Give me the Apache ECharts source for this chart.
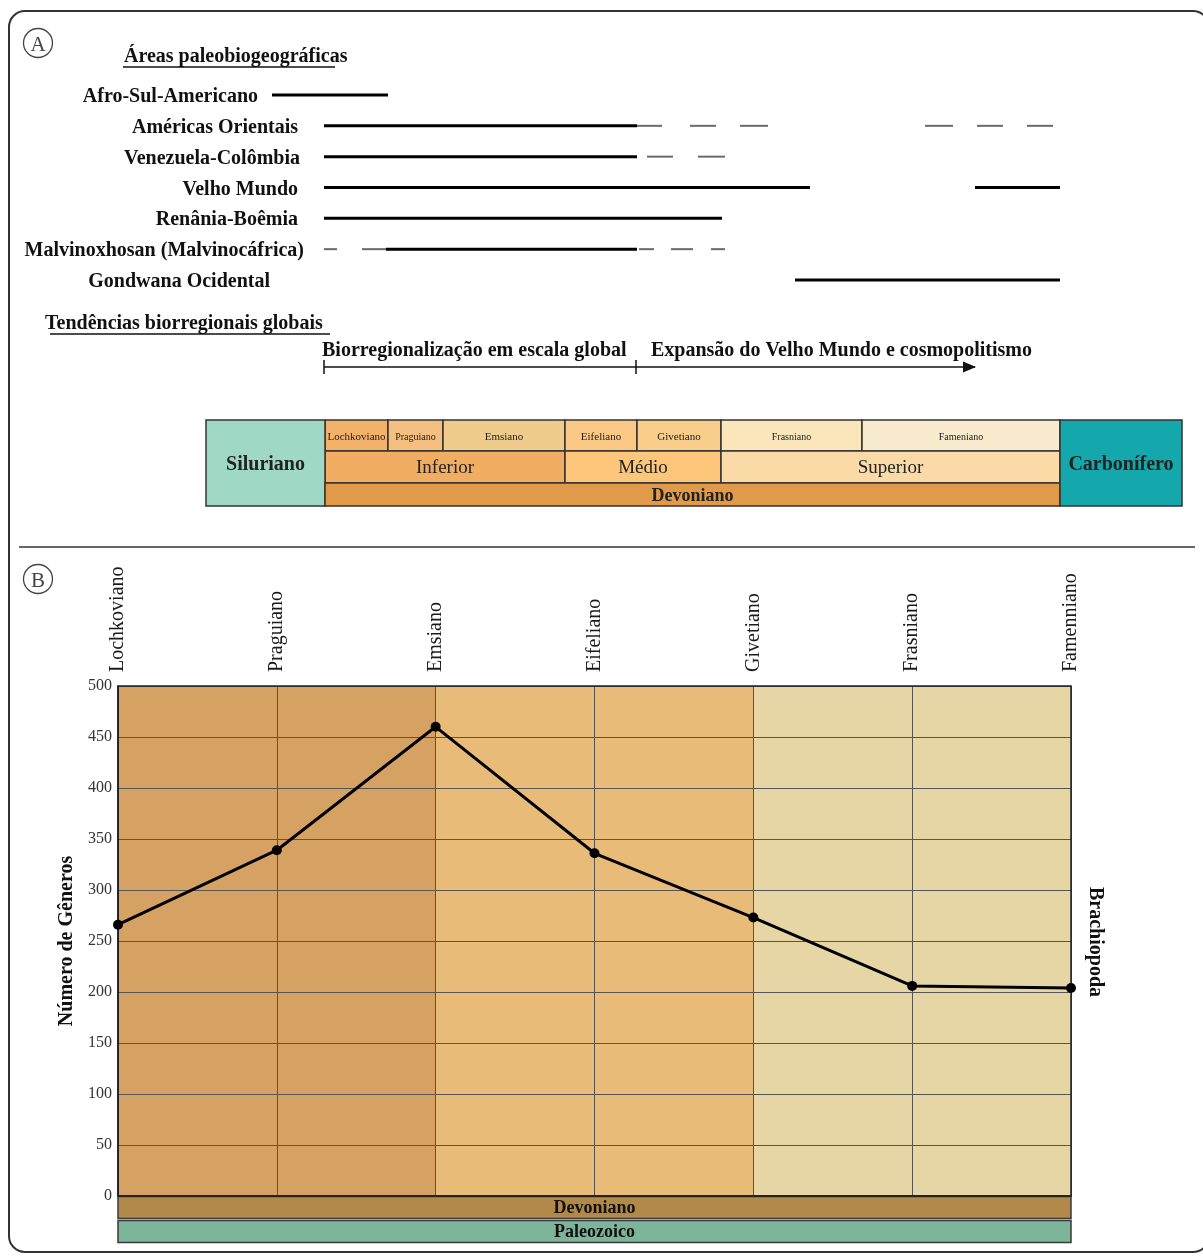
<!DOCTYPE html>
<html><head><meta charset="utf-8">
<script src="https://cdn.jsdelivr.net/npm/echarts@6/dist/echarts.min.js"></script>
<style>html,body{margin:0;padding:0;background:#fff}#c{width:1203px;height:1257px}</style>
</head><body><div id="c"></div>
<script>
const SERIF = '"Liberation Serif", "Times New Roman", serif';

// ---------- Panel A data ----------
const areaNames = ['Afro-Sul-Americano','Américas Orientais','Venezuela-Colômbia','Velho Mundo','Renânia-Boêmia','Malvinoxhosan (Malvinocáfrica)','Gondwana Ocidental'];
// [row, start, end] on the stratigraphic scale (base of Siluriano column = 0)
const solidRanges = [[0,66,182],[1,118,431],[2,118,431],[3,118,604],[3,769,854],[4,118,516],[5,180,431],[6,589,854]];
const dashedRanges = [[1,431,456],[1,484,510],[1,534,562],[1,719,747],[1,771,797],[1,821,847],
                      [2,441,467],[2,492,519],
                      [5,118,131],[5,156,180],[5,433,448],[5,465,487],[5,505,519]];
const trendNames = ['Biorregionalização em escala global','Expansão do Velho Mundo e cosmopolitismo'];
const trendRanges = [[118,430],[430,769]];

const stageNames = ['Lochkoviano','Praguiano','Emsiano','Eifeliano','Givetiano','Frasniano','Fameniano'];
const stageBounds = [119,182,237,359,431,515,656,854];
const epochNames = ['Inferior','Médio','Superior'];
const epochBounds = [119,359,515,854];
const periodNames = ['Siluriano','Devoniano','Carbonífero'];
const periodBounds = [0,119,854,976];

// ---------- Panel B data ----------
const genusStages = ['Lochkoviano','Praguiano','Emsiano','Eifeliano','Givetiano','Frasniano','Famenniano'];
const brachiopodGenera = [266,339,460,336,273,206,204];
const epochSpans = [[0,2],[2,4],[4,6]];
const eraBars = ['Devoniano','Paleozoico'];

// ---------- styles ----------
const stageColors = ['#f2b26a','#f5c07f','#efcb8c','#fbc985','#f9ce8a','#fbe6bb','#f9ebcd'];
const stageFont = [11,10,11,11,11,10,10];
const epochColors = ['#f1ad62','#fdc67a','#fadba7'];
const periodColors = ['#9fd9c6','#e09a49','#14a7ab'];
const bandColors = ['#d6a264','#e8bb78','#e6d5a5'];
const barColors = ['#b3894a','#7db59a'];
const labelRight = [258,298,300,298,298,304,270];
const trendTextOffset = [-2,15];

// build table cells
const cells = [];
stageNames.forEach((n,i)=>cells.push({s:stageBounds[i],e:stageBounds[i+1],row:0,name:n,color:stageColors[i],font:stageFont[i]+'px '+SERIF}));
epochNames.forEach((n,i)=>cells.push({s:epochBounds[i],e:epochBounds[i+1],row:1,name:n,color:epochColors[i],font:'19px '+SERIF}));
periodNames.forEach((n,i)=>cells.push({s:periodBounds[i],e:periodBounds[i+1],row:(i===1?2:3),name:n,color:periodColors[i],font:'bold '+(i===1?18:20)+'px '+SERIF}));
const rowFr = [[0,0.36],[0.36,0.733],[0.733,1],[0,1]];

const segData = solidRanges.map(r=>[r[0],r[1],r[2],0]).concat(dashedRanges.map(r=>[r[0],r[1],r[2],1]));

const chart = echarts.init(document.getElementById('c'), null, {renderer:'canvas'});

const rowTop = 79.58, rowH = 215.83;
const graphics = [
  {type:'rect', shape:{x:9,y:11,width:1200,height:1241,r:16}, style:{fill:'none',stroke:'#333',lineWidth:2}, silent:true},
  {type:'line', shape:{x1:19,y1:547,x2:1195,y2:547}, style:{stroke:'#666',lineWidth:2}},
  {type:'circle', shape:{cx:38,cy:43,r:14.5}, style:{fill:'none',stroke:'#444',lineWidth:1.3}},
  {type:'text', style:{text:'A',x:38,y:45,font:'21px '+SERIF,fill:'#444',textAlign:'center',textVerticalAlign:'middle'}},
  {type:'circle', shape:{cx:38,cy:579,r:14.5}, style:{fill:'none',stroke:'#444',lineWidth:1.3}},
  {type:'text', style:{text:'B',x:38,y:581,font:'21px '+SERIF,fill:'#444',textAlign:'center',textVerticalAlign:'middle'}},
  {type:'text', style:{text:'Áreas paleobiogeográficas',x:124,y:57,font:'bold 20px '+SERIF,fill:'#111',textVerticalAlign:'middle'}},
  {type:'line', shape:{x1:123,y1:67,x2:335,y2:67}, style:{stroke:'#111',lineWidth:1.5}},
  {type:'text', style:{text:'Tendências biorregionais globais',x:45,y:324,font:'bold 20px '+SERIF,fill:'#111',textVerticalAlign:'middle'}},
  {type:'line', shape:{x1:50,y1:334,x2:330,y2:334}, style:{stroke:'#111',lineWidth:1.5}},
  {type:'text', rotation:-Math.PI/2, x:1095, y:942, style:{text:'Brachiopoda',x:0,y:0,font:'bold 20px '+SERIF,fill:'#111',textAlign:'center',textVerticalAlign:'middle'}}
];
areaNames.forEach((n,i)=>{
  graphics.push({type:'text', style:{text:n,x:labelRight[i],y:rowTop+(i+0.5)*rowH/7+2,font:'bold 20px '+SERIF,fill:'#111',textAlign:'right',textVerticalAlign:'middle'}});
});

const option = {
  animation:false,
  backgroundColor:'#fff',
  graphic:{elements:graphics},
  grid:[
    {left:206,right:21,top:rowTop,height:rowH},
    {left:206,right:21,top:330,height:45},
    {left:206,right:21,top:420,height:86},
    {left:118,right:132,top:686,height:510,show:true,borderColor:'#222',borderWidth:1.5,z:6},
    {left:118,right:132,top:1196,height:48}
  ],
  xAxis:[
    {gridIndex:0,type:'value',min:0,max:976,show:false},
    {gridIndex:1,type:'value',min:0,max:976,show:false},
    {gridIndex:2,type:'value',min:0,max:976,show:false},
    {gridIndex:3,type:'category',position:'top',boundaryGap:false,data:genusStages,z:5,
      axisLine:{show:true,lineStyle:{color:'#111',width:1.5}},axisTick:{show:false},
      axisLabel:{interval:0,rotate:90,margin:14,fontFamily:SERIF,fontSize:20,color:'#1a1a1a'},
      splitLine:{show:true,interval:0,lineStyle:{color:'#555',width:1}}},
    {gridIndex:4,type:'value',min:0,max:1,show:false}
  ],
  yAxis:[
    {gridIndex:0,type:'category',inverse:true,data:areaNames,show:false},
    {gridIndex:1,type:'value',min:0,max:1,show:false},
    {gridIndex:2,type:'value',min:0,max:3,show:false},
    {gridIndex:3,type:'value',min:0,max:500,interval:50,z:5,
      name:'Número de Gêneros',nameLocation:'middle',nameGap:38,
      nameTextStyle:{fontFamily:SERIF,fontWeight:'bold',fontSize:20,color:'#111'},
      axisLine:{show:true,lineStyle:{color:'#111',width:1.5}},axisTick:{show:false},
      axisLabel:{margin:6,fontFamily:SERIF,fontSize:16,color:'#333'},
      splitLine:{show:true,lineStyle:{color:'#555',width:1}}},
    {gridIndex:4,type:'category',inverse:true,data:eraBars,show:false}
  ],
  series:[
    {type:'custom',name:'areas',xAxisIndex:0,yAxisIndex:0,encode:{x:[1,2],y:0},data:segData,
      renderItem:(params,api)=>{
        const s=api.coord([api.value(1),api.value(0)]);
        const e=api.coord([api.value(2),api.value(0)]);
        const dashed=api.value(3)===1;
        return {type:'line',shape:{x1:s[0],y1:s[1],x2:e[0],y2:e[1]},
          style:{stroke:dashed?'#6a6a6a':'#000',lineWidth:dashed?2:3}};
      }},
    {type:'custom',name:'trends',xAxisIndex:1,yAxisIndex:1,encode:{x:[0,1]},data:trendRanges,
      renderItem:(params,api)=>{
        const cs=params.coordSys; const i=params.dataIndex;
        const x0=api.coord([api.value(0),0])[0], x1=api.coord([api.value(1),0])[0];
        const ly=cs.y+cs.height-8;
        const ch=[
          {type:'line',shape:{x1:x0,y1:ly,x2:x1,y2:ly},style:{stroke:'#111',lineWidth:1.5}},
          {type:'line',shape:{x1:x0,y1:ly-7,x2:x0,y2:ly+7},style:{stroke:'#111',lineWidth:1.5}},
          {type:'text',style:{text:trendNames[i],x:x0+trendTextOffset[i],y:cs.y+21,font:'bold 20px '+SERIF,fill:'#111',textVerticalAlign:'middle'}}
        ];
        if(i===trendRanges.length-1){
          ch.push({type:'polygon',shape:{points:[[x1+1,ly],[x1-12,ly-5.5],[x1-12,ly+5.5]]},style:{fill:'#111'}});
        }
        return {type:'group',children:ch};
      }},
    {type:'custom',name:'table',xAxisIndex:2,yAxisIndex:2,encode:{x:[0,1],y:2},data:cells.map(c=>[c.s,c.e,c.row]),
      renderItem:(params,api)=>{
        const cs=params.coordSys; const c=cells[params.dataIndex];
        const x0=api.coord([c.s,0])[0], x1=api.coord([c.e,0])[0];
        const fr=rowFr[c.row];
        const y0=cs.y+fr[0]*cs.height, y1=cs.y+fr[1]*cs.height;
        return {type:'rect',shape:{x:x0,y:y0,width:x1-x0,height:y1-y0},
          style:{fill:c.color,stroke:'#333',lineWidth:1.5},
          textContent:{type:'text',style:{text:c.name,font:c.font,fill:'#222'}},
          textConfig:{position:'inside',offset:[0,1.5]}};
      }},
    {type:'custom',name:'bands',xAxisIndex:3,yAxisIndex:3,z:1,encode:{x:[0,1]},data:epochSpans,
      renderItem:(params,api)=>{
        const cs=params.coordSys;
        const x0=api.coord([api.value(0),0])[0], x1=api.coord([api.value(1),0])[0];
        return {type:'rect',shape:{x:x0,y:cs.y,width:x1-x0,height:cs.height},style:{fill:bandColors[params.dataIndex]}};
      }},
    {type:'line',name:'Brachiopoda',xAxisIndex:3,yAxisIndex:3,z:10,data:brachiopodGenera,
      symbol:'circle',symbolSize:10,itemStyle:{color:'#000'},lineStyle:{color:'#000',width:3}},
    {type:'custom',name:'eras',xAxisIndex:4,yAxisIndex:4,encode:{y:0},data:eraBars.map((n,i)=>[i]),
      renderItem:(params,api)=>{
        const cs=params.coordSys; const i=params.dataIndex;
        const cy=api.coord([0,i])[1]; const h=api.size([0,1])[1];
        return {type:'rect',shape:{x:cs.x,y:cy-h/2+0.5,width:cs.width,height:h-2},
          style:{fill:barColors[i],stroke:'#3a3a3a',lineWidth:1.5},
          textContent:{type:'text',style:{text:eraBars[i],font:'bold 18px '+SERIF,fill:'#111'}},
          textConfig:{position:'inside',offset:[0,1]}};
      }}
  ]
};
chart.setOption(option);
</script></body></html>
